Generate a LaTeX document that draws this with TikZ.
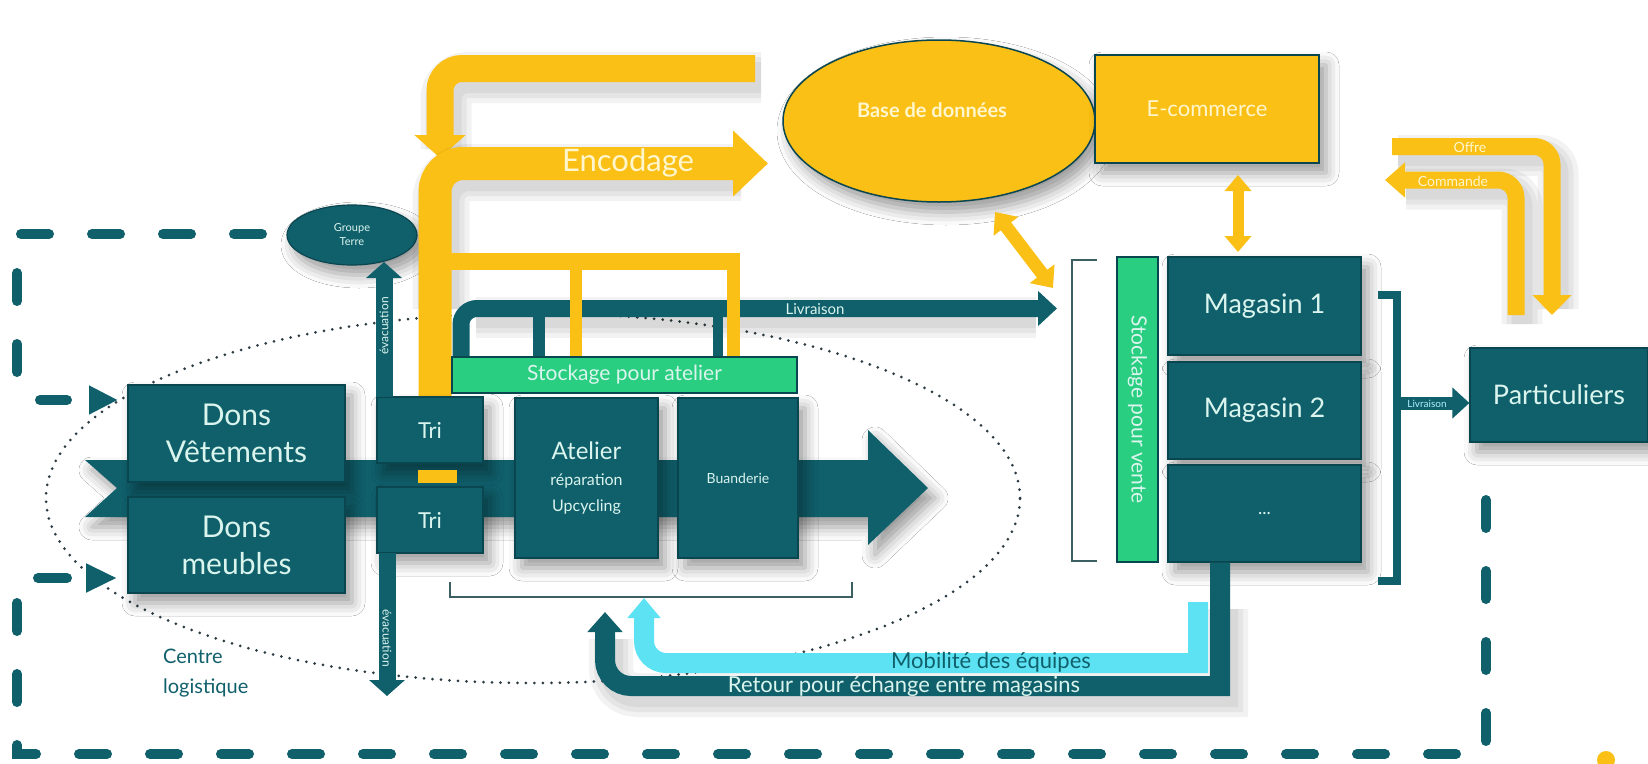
\documentclass[tikz,border=0pt]{standalone}
\usepackage{fontspec}
\setmainfont{Lato}
\usetikzlibrary{arrows.meta,shapes.geometric,calc,shadows.blur}
\definecolor{tl}{RGB}{16,96,108}
\definecolor{tld}{RGB}{10,70,80}
\definecolor{lt}{RGB}{218,244,238}
\definecolor{yl}{RGB}{250,192,22}
\definecolor{ylt}{RGB}{255,246,205}
\definecolor{gr}{RGB}{42,206,128}
\definecolor{cy}{RGB}{92,226,242}
\definecolor{dotc}{RGB}{45,60,66}
\definecolor{brk}{RGB}{60,95,100}
\newcommand\fsz[2]{\fontsize{#1}{#2}\selectfont}
\newcommand\shd[2]{%
  \draw[sh,line width=\dimexpr#1pt+4pt\relax] #2;
  \draw[sh,line width=\dimexpr#1pt+14pt\relax] #2;
  \draw[sh,line width=\dimexpr#1pt+24pt\relax] #2;}
\begin{document}
\begin{tikzpicture}[x=1pt,y=-1pt,
  sh/.style={draw=black,opacity=0.05,line cap=butt,shift={(6,9)}},
  shad/.style={blur shadow={shadow xshift=7pt,shadow yshift=-10pt,shadow blur radius=13pt,shadow opacity=40}},
  box/.style={shad,draw=tld,line width=1.2pt,fill=tl,text=lt,inner sep=0pt,align=center},
  gbox/.style={draw=tld,line width=1.2pt,fill=gr,text=lt,inner sep=0pt,align=center},
  ybox/.style={shad,draw=tld,line width=1.5pt,fill=yl,text=ylt,inner sep=0pt,align=center},
  yarrow/.style={draw=yl,line cap=butt},
  tarrow/.style={draw=tl,line cap=butt},
  border/.style={draw=tl,line width=10pt,line cap=round,dash pattern=on 28pt off 43pt},
  brack/.style={draw=brk,line width=2.5pt},
  lbl/.style={inner sep=0pt},
]
\useasboundingbox (0,0) rectangle (1648,763);
\fill[white] (0,0) rectangle (1648,763);

% centre logistique (dotted ellipse)
\draw[dotc,line width=3pt,line cap=round,dash pattern=on 0pt off 8.5pt] (533,498) ellipse [x radius=487pt,y radius=185pt];
\node[lbl,text=tl,align=left,anchor=west,font=\fsz{20}{30}] (cl) at (163,673) {Centre\\logistique};

% dashed border
\draw[border] (262,234) -- (17,234) -- (17,372);
\draw[border] (17,603) -- (17,754) -- (1486,754) -- (1486,462);

% dashed entry arrows
\coordinate (da1) at (40,400);
\coordinate (da2) at (38,578);
\draw[tl,line width=10pt,line cap=round,dash pattern=on 27pt off 60pt,-{Triangle[width=27pt,length=29pt]}] (da1) -- (118,400);
\draw[tl,line width=10pt,line cap=round,dash pattern=on 29pt off 60pt,-{Triangle[width=27pt,length=31pt]}] (da2) -- (117,578);

% Groupe Terre
\node[box,ellipse,minimum width=130pt,minimum height=60pt,font=\fsz{11}{14}] (gt) at (352,235) {Groupe\\Terre};

% main flow band
\fill[tl,shad] (85,460) -- (868,460) -- (868,430) -- (928,488) -- (868,545) -- (868,517) -- (85,517) -- (117,488) -- cycle;

% yellow return from top
\shd{27}{[rounded corners=22pt] (755,68.5) -- (440,68.5) -- (440,140)}
\draw[yarrow,line width=27pt,rounded corners=22pt,-{Triangle[width=50pt,length=23pt]}] (755,68.5) -- (440,68.5) -- (440,158);
% Encodage
\shd{33}{[rounded corners=28pt] (435,300) -- (435,163.5) -- (735,163.5)}
\draw[yarrow,line width=33pt,rounded corners=28pt,-{Triangle[width=64pt,length=35pt]}] (435,398) -- (435,163.5) -- (768,163.5);
\node[lbl,text=ylt,font=\fsz{31}{31}] (enc) at (628,163) {Encodage};

% teal livraison
\shd{17}{(470,308.5) -- (1030,308.5)}
\draw[tarrow,line width=17pt,rounded corners=16pt,-{Triangle[width=34pt,length=19pt]}] (461,357) -- (461,308.5) -- (1057,308.5);
\draw[tarrow,line width=12pt] (539,308) -- (539,357);
\draw[tarrow,line width=10pt] (718,308) -- (718,357);
\node[lbl,text=lt,font=\fsz{15}{15}] (liv1) at (815,309) {Livraison};

% yellow fork
\draw[yarrow,line width=17pt] (450,261.5) -- (740,261.5);
\draw[yarrow,line width=13pt] (733.5,253) -- (733.5,357);
\draw[yarrow,line width=12pt] (576,253) -- (576,357);

% boxes left
\node[box,minimum width=217pt,minimum height=97pt,font=\fsz{30}{37}] (dv) at (236.5,433.5) {Dons\\Vêtements};
\node[box,minimum width=217pt,minimum height=96pt,font=\fsz{30}{37}] (dm) at (236.5,545) {Dons\\meubles};
\node[box,minimum width=106pt,minimum height=66pt,font=\fsz{22}{26}] (tri1) at (430,430) {Tri};
\node[box,minimum width=106pt,minimum height=66pt,font=\fsz{22}{26}] (tri2) at (430,520) {Tri};
\fill[yl] (418,470) rectangle (457,483);

% evacuation
\draw[tarrow,line width=17pt,-{Triangle[width=35pt,length=16pt]}] (384,397) -- (384,262);
\node[lbl,rotate=90,text=lt,font=\fsz{12}{12}] at (384,326) {évacuation};
\draw[tarrow,line width=17pt,-{Triangle[width=35pt,length=16pt]}] (387,553) -- (387,696);
\node[lbl,rotate=-90,text=lt,font=\fsz{12}{12}] at (387,638) {évacuation};

\node[gbox,minimum width=345pt,minimum height=36pt,font=\fsz{21}{21}] (sa) at (624.5,375) {Stockage pour atelier};
\node[box,minimum width=143pt,minimum height=160pt,font=\fsz{16}{26}] (at) at (586.5,478) {{\fsz{24}{26}Atelier}\\réparation\\Upcycling};
\node[box,minimum width=120pt,minimum height=160pt,font=\fsz{14}{14}] (bu) at (738,478) {Buanderie};
\draw[brack] (450,582) -- (450,597) -- (852,597) -- (852,582);

% database & e-commerce
\node[ybox,ellipse,minimum width=312pt,minimum height=162pt] (bdd) at (939,121) {};
\node[lbl,text=ylt,font=\bfseries\fsz{20}{20}] (bddt) at (932,110) {Base de données};
\node[ybox,minimum width=224pt,minimum height=108pt,font=\fsz{22}{22}] (ec) at (1207,109) {E-commerce};
\draw[yl,line width=13pt,{Triangle[width=30pt,length=18pt]}-{Triangle[width=30pt,length=18pt]}] (995,212) -- (1053,288);
\draw[yl,line width=11pt,{Triangle[width=26pt,length=16pt]}-{Triangle[width=26pt,length=16pt]}] (1238,175) -- (1238,252);

% shops
\draw[brack] (1097,260) -- (1072,260) -- (1072,561) -- (1097,561);
\node[gbox,rotate=-90,minimum width=305pt,minimum height=41pt,font=\fsz{21}{21}] (sv) at (1137.5,409.5) {Stockage pour vente};
\node[box,minimum width=193pt,minimum height=98pt,font=\fsz{27}{27}] (m1) at (1264.5,306) {Magasin 1};
\node[box,minimum width=193pt,minimum height=97pt,font=\fsz{27}{27}] (m2) at (1264.5,410.5) {Magasin 2};
\node[box,minimum width=193pt,minimum height=97pt,font=\fsz{18}{18}] (m3) at (1264.5,513.5) {...};
\draw[tl,line width=8pt] (1378,295) -- (1397,295) -- (1397,581) -- (1378,581);
\node[box,minimum width=178pt,minimum height=94pt,font=\fsz{27}{27}] (pa) at (1559,395) {Particuliers};
\draw[tarrow,line width=13pt,-{Triangle[width=30pt,length=17pt]}] (1397,403) -- (pa.west |- 0,403);
\node[lbl,text=cy!50!white,font=\fsz{10}{10}] at (1427,404) {Livraison};

% offre / commande
\shd{17}{[rounded corners=18pt] (1392,146.5) -- (1552,146.5) -- (1552,300)}
\shd{17}{[rounded corners=18pt] (1516,315) -- (1516,180) -- (1400,180)}
\draw[yarrow,line width=17pt,rounded corners=18pt,-{Triangle[width=38pt,length=20pt]}] (1392,146.5) -- (1552,146.5) -- (1552,315);
\draw[yarrow,line width=17pt,rounded corners=18pt,-{Triangle[width=34pt,length=20pt]}] (1516,315) -- (1516,180) -- (1385,180);
\node[lbl,text=ylt,font=\fsz{14}{14}] at (1470,147) {Offre};
\node[lbl,text=ylt,font=\fsz{14}{14}] at (1453,181) {Commande};

% return arrows
\shd{20}{(1220,600) -- (1220,686) [rounded corners=26pt] -- (605,686) -- (605,630)}
\draw[tarrow,line width=20pt,-{Triangle[width=34pt,length=20pt]}] (m3.south -| 1220,0) -- (1220,686) [rounded corners=26pt] -- (605,686) -- (605,612);
\draw[draw=cy,line width=20pt,-{Triangle[width=32pt,length=20pt]}] (1198,602) -- (1198,663) [rounded corners=22pt] -- (644,663) -- (644,598);
\node[lbl,text=tl,font=\fsz{22}{22}] at (991,662) {Mobilité des équipes};
\node[lbl,text=lt,font=\fsz{22}{22}] at (904,686) {Retour pour échange entre magasins};

% logo fragment
\fill[yl] (1606,760) circle (9pt);
\end{tikzpicture}
\end{document}
